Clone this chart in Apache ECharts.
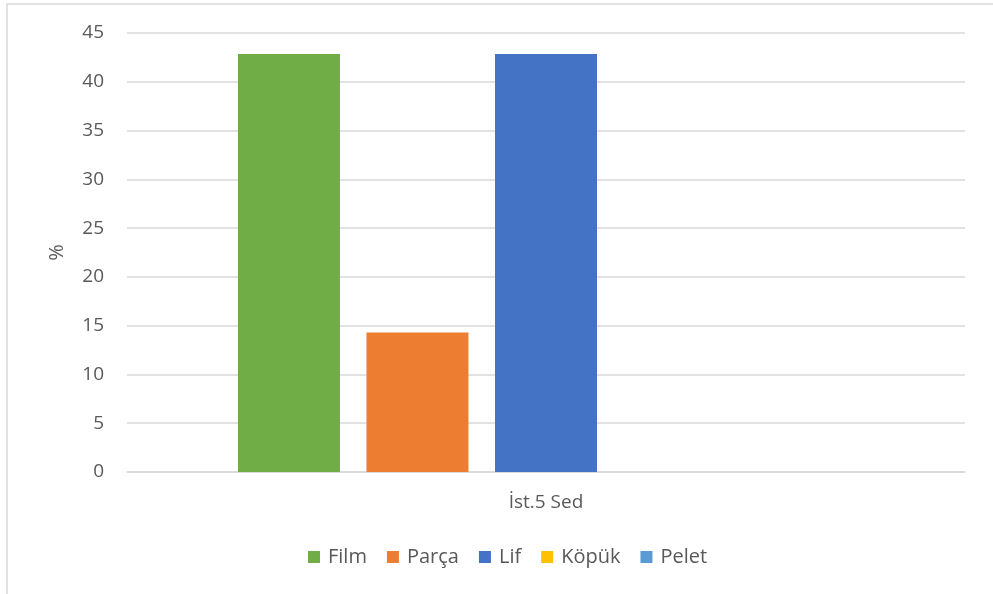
<!DOCTYPE html>
<html><head><meta charset="utf-8">
<script src="https://cdn.jsdelivr.net/npm/echarts@6/dist/echarts.min.js"></script>
<style>html,body{margin:0;padding:0;background:#fff}#c{width:993px;height:594px}</style>
</head><body><div id="c"></div>
<script>
const categories = ['İst.5 Sed'];
const seriesNames = ['Film', 'Parça', 'Lif', 'Köpük', 'Pelet'];
const film = [42.86];
const parca = [14.29];
const lif = [42.86];
const kopuk = [0];
const pelet = [0];
const colors = ['#70ad47', '#ed7d31', '#4472c4', '#ffc000', '#5b9bd5'];
const values = [film, parca, lif, kopuk, pelet];

const chart = echarts.init(document.getElementById('c'));
chart.setOption({
  animation: false,
  textStyle: { fontFamily: 'Open Sans, sans-serif' },
  graphic: [{
    type: 'rect', shape: { x: 7, y: 4, width: 1000, height: 700 },
    style: { fill: 'none', stroke: '#d9d9d9', lineWidth: 1.5 }, silent: true
  }],
  grid: { left: 127, right: 28, top: 33, bottom: 122, containLabel: false },
  legend: {
    bottom: 22, left: 303, itemWidth: 12, itemHeight: 12, itemGap: 20,
    icon: 'rect',
    textStyle: { fontSize: 20, color: '#595959', fontFamily: 'Open Sans, sans-serif', padding: [0, 0, 0, 3] },
    data: seriesNames
  },
  xAxis: {
    type: 'category', data: categories,
    axisLine: { show: true, lineStyle: { color: '#d9d9d9', width: 1.5 } },
    axisTick: { show: false },
    axisLabel: { fontSize: 19, color: '#595959', margin: 21 }
  },
  yAxis: {
    type: 'value', min: 0, max: 45, interval: 5,
    name: '%', nameLocation: 'middle', nameGap: 60, nameRotate: 90,
    nameTextStyle: { fontSize: 20, color: '#595959' },
    axisLine: { show: false }, axisTick: { show: false },
    axisLabel: { fontSize: 19, color: '#595959', margin: 23 },
    splitLine: { lineStyle: { color: '#d9d9d9', width: 1.5 } }
  },
  series: seriesNames.map((n, i) => ({
    name: n, type: 'bar', data: values[i], barWidth: 102, barGap: '26%',
    itemStyle: { color: colors[i] }
  }))
});
</script></body></html>
